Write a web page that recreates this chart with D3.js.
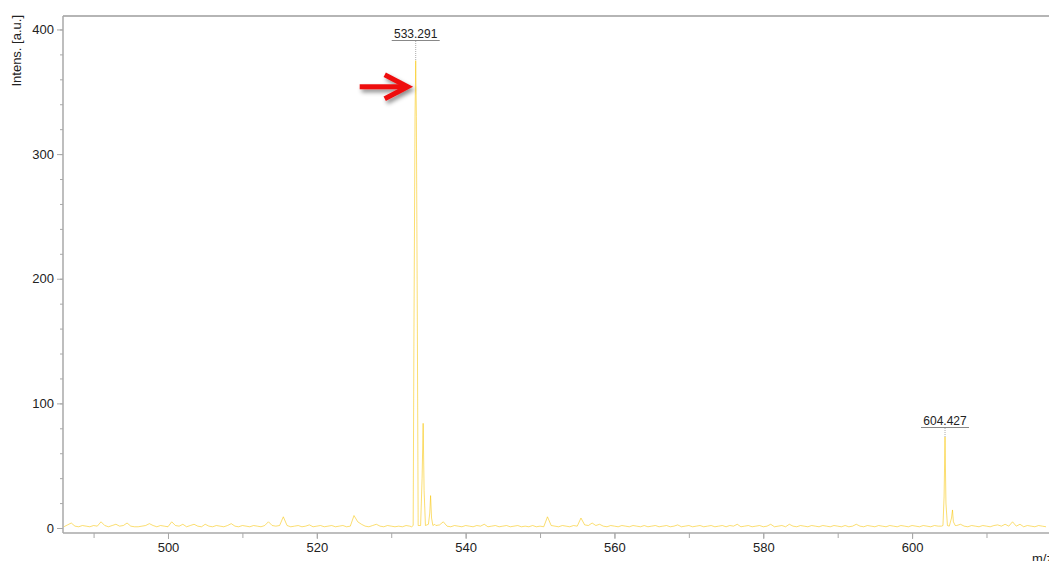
<!DOCTYPE html>
<html lang="en">
<head>
    <meta charset="UTF-8">
    <title>mass spectrum</title>
    <script src="https://d3js.org/d3.v7.min.js"></script>
<style>
    body{ margin:0; background:#fff; }
    .axis text{ font-family:"Liberation Sans", Arial, sans-serif; font-size:13px; fill:#222; }
    .axis path, .axis line{ stroke:#a8a8a8; }
    .lbl{ font-family:"Liberation Sans", Arial, sans-serif; font-size:12px; fill:#222; }
</style>
</head>
<body>
<div id="fig"></div>
<script>
    // baseline noise, sampled every 0.5 m/z starting at 486.0
    let noiseStart = 486, noiseStep = 0.5
    let noise = [
        1,2.5,4,1.5,1,2,1.5,1,2,1.5, 5,2,1,2,3,1.5,2,4,1.5,1,
        1,1.5,2,3.5,2,1,2,1.5,1,5, 2,1.5,3,1,2,3,1.5,1,3,1.5,
        1,2,1.5,1,2,3.5,1.5,1,2,1.5, 1,2,1.5,1,2,5,2,1.5,2,9,
        2,1,1.5,2,1,1.5,2.5,1,1.5,2, 1,1.5,2,1,1.5,2,1,1.5,10,5,
        3,1.5,1,2,3,1.5,1,2,1.5,1, 1.5,1,2,1.5,0.5,0.5,0.5,0.5,0.5,0.5,
        2,2.5,5,1.5,1,2,1.5,1,2,1.5, 1,2,1.5,3,1,1.5,2,1,1.5,2,
        1,1.5,2,1,1.5,1,2,1,1.5,1, 9,2,1.5,1,2,1.5,1,2,1.5,8,
        2.5,2,4,2,3,1.5,1,2,1.5,1, 2,1.5,1,2,1.5,1,2,1,1.5,2,
        1,1.5,2,1,1.5,2.5,1,1.5,2,1, 1.5,2,1,1.5,2,1,1.5,2,1,2,
        1.5,3,1,1.5,2,1,1.5,2,1,1.5, 3,1,1.5,2,1,3,1.5,1,2,1.5,
        1,2,1.5,1,2,1.5,1,2,1.5,1, 2,1,1.5,3,1.5,1,2,1.5,1,2,
        1.5,1,2,1.5,1,2,1.5,1,2,1.5, 1,2,1.5,1,2,1.5,1,1,1,1,
        2,3,1.5,1,2,1.5,1,2,1.5,1, 2,2.5,1.5,3,1.5,5,1.5,3,1,2,
        1.5,1,2,1.5,1
    ]
    // profile points of the two labelled isotope clusters
    let peakMz  = [532.75,532.95,533.05,533.2,533.291,533.38,533.52,533.62,533.95,534.15,534.29,534.42,534.6,535.0,535.18,535.29,535.42,535.6,535.85,
                   603.95,604.15,604.3,604.427,604.55,604.75,605.0,605.3,605.43,605.55,605.8]
    let peakInt = [1,2,150,330,375,330,150,2,2,40,84,30,2,3,12,26,8,2,3,
                   1.5,2,25,73,20,2,1.5,8,14.5,5,2]
    let windows = [[532.7,535.9],[603.9,605.9]]
    let labelMz  = [533.291, 604.427]
    let labelInt = [375, 73]
    let yTicks = [0,100,200,300,400]
    let xTicks = [500,520,540,560,580,600]

    let W = 1049, H = 561
    let mLeft = 63, mTop = 16, mBottom = 533
    let svg = d3.select("#fig").append("svg").attr("width",W).attr("height",H)

    let x = d3.scaleLinear().domain([485.89,618.4]).range([mLeft,W])
    let y = d3.scaleLinear().domain([-4,410.8]).range([mBottom,mTop])

    // merge baseline and peaks
    let pts = []
    noise.forEach(function(v,i){
        let m = noiseStart + i*noiseStep
        if(!windows.some(function(w){return m>=w[0] && m<=w[1]})) pts.push([m,v])
    })
    peakMz.forEach(function(m,i){ pts.push([m,peakInt[i]]) })
    pts.sort(function(a,b){return a[0]-b[0]})

    svg.append("clipPath").attr("id","clip").append("rect")
        .attr("x",mLeft).attr("y",mTop).attr("width",W-mLeft).attr("height",mBottom-mTop)

    svg.append("path").datum(pts)
        .attr("clip-path","url(#clip)")
        .attr("fill","none").attr("stroke","#f8c300").attr("stroke-width",0.8).attr("stroke-opacity",0.7)
        .attr("d",d3.line().x(function(d){return x(d[0])}).y(function(d){return y(d[1])}))

    // frame
    svg.append("line").attr("x1",mLeft).attr("x2",W).attr("y1",mTop).attr("y2",mTop)
        .attr("stroke","#b5b5b5").attr("stroke-width",2)

    // y axis: major + minor ticks
    svg.append("g").attr("class","axis").attr("transform",`translate(${mLeft},0)`)
        .call(d3.axisLeft(y).tickValues(d3.range(0,411,20)).tickSize(3).tickFormat(""))
        .call(function(g){g.select(".domain").remove()})
    svg.append("g").attr("class","axis").attr("transform",`translate(${mLeft},0)`)
        .call(d3.axisLeft(y).tickValues(yTicks).tickSize(6).tickPadding(3))
        .call(function(g){g.select(".domain").attr("d",`M0,${mTop}V${mBottom}`).attr("stroke-width",1.5)})

    // x axis
    svg.append("g").attr("class","axis").attr("transform",`translate(0,${mBottom})`)
        .call(d3.axisBottom(x).tickValues(d3.range(490,618,10)).tickSize(5).tickFormat(""))
        .call(function(g){g.select(".domain").remove()})
    svg.append("g").attr("class","axis").attr("transform",`translate(0,${mBottom})`)
        .call(d3.axisBottom(x).tickValues(xTicks).tickSize(6).tickPadding(4))
        .call(function(g){g.select(".domain").attr("d",`M${mLeft},0H${W}`).attr("stroke-width",1.5)})

    svg.append("text").attr("class","lbl")
        .attr("transform","translate(21,15) rotate(-90)")
        .attr("text-anchor","end").style("font-size","13px").text("Intens. [a.u.]")
    svg.append("text").attr("class","lbl").attr("x",1032).attr("y",563)
        .style("font-size","13px").text("m/z")

    // peak labels
    labelMz.forEach(function(m,i){
        let px = x(m)
        let ly = i==0 ? 38 : 425
        svg.append("line").attr("x1",px).attr("x2",px).attr("y1",ly+3).attr("y2",y(labelInt[i]))
            .attr("stroke","#aaa").attr("stroke-dasharray","1,1")
        svg.append("text").attr("class","lbl").attr("x",px).attr("y",ly)
            .attr("text-anchor","middle").text(m.toFixed(3))
        svg.append("line").attr("x1",px-24).attr("x2",px+24).attr("y1",ly+2.5).attr("y2",ly+2.5)
            .attr("stroke","#888").attr("stroke-width",1)
    })

    // red annotation arrow
    let defs = svg.append("defs")
    let f = defs.append("filter").attr("id","shadow").attr("x","-30%").attr("y","-30%").attr("width","160%").attr("height","180%")
    f.append("feDropShadow").attr("dx",2).attr("dy",3).attr("stdDeviation",2).attr("flood-color","#000").attr("flood-opacity",0.45)
    let tx = x(533.291)-8, ty = y(354)
    let ag = svg.append("g").attr("filter","url(#shadow)")
    ag.append("line").attr("x1",tx-48).attr("x2",tx-4).attr("y1",ty).attr("y2",ty)
        .attr("stroke","#ee1111").attr("stroke-width",5)
    ag.append("path").attr("d",`M${tx-23},${ty-12}L${tx},${ty}L${tx-23},${ty+12}`)
        .attr("fill","none").attr("stroke","#ee1111").attr("stroke-width",5).attr("stroke-linejoin","miter")
</script>
</body>
</html>
